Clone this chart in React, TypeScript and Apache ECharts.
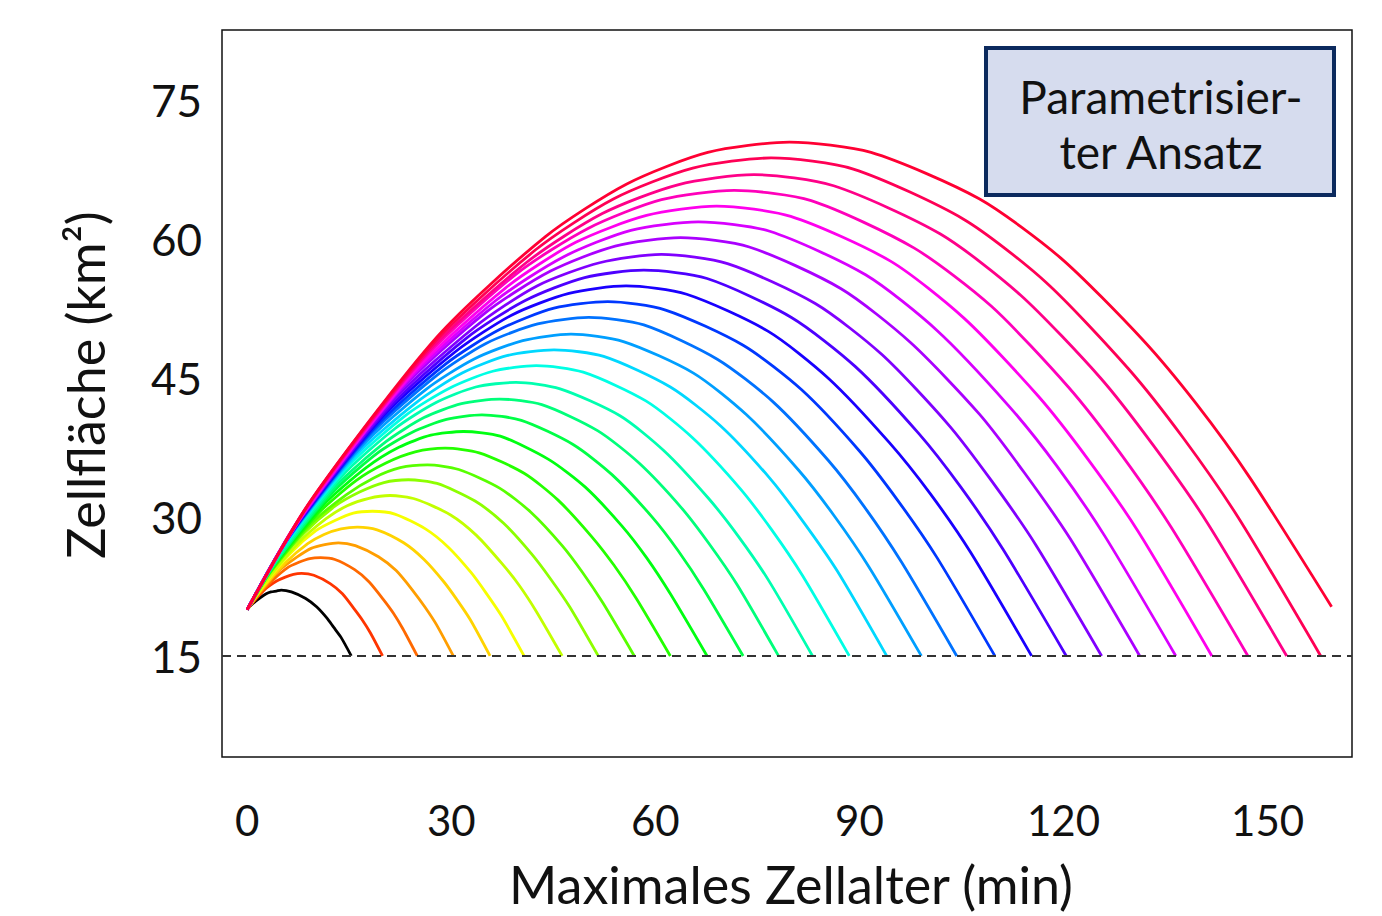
import React, { useEffect, useRef } from 'react';
import * as echarts from 'echarts';

// Tick labels and reference values
const xTicks = [0, 30, 60, 90, 120, 150];
const yTicks = [15, 30, 45, 60, 75];
const thresholdArea = 15;
const boxLines = ['Parametrisier-', 'ter Ansatz'];
const xTitle = 'Maximales Zellalter (min)';
const yTitle = 'Zellfläche (km²)';

// Curves: [Zellalter (min), Zellfläche (km²)]
const curve00 = [[0, 20], [0.6, 20.5], [1.8, 21.2], [2.8, 21.7], [3.5, 21.9], [4.3, 22.0], [5.0, 22.1], [6.5, 21.9], [8.6, 21.2], [10.2, 20.3], [11.7, 19.1], [12.7, 18.1], [13.8, 17.0], [15.3, 15]];
const curve01 = [[0, 20], [1.0, 20.9], [2.8, 22.3], [4.4, 23.1], [5.6, 23.5], [6.8, 23.8], [8.0, 23.9], [9.8, 23.7], [12.2, 22.8], [14.0, 21.7], [15.7, 20.1], [16.9, 18.9], [18.1, 17.5], [19.9, 15]];
const curve02 = [[0, 20], [1.3, 21.3], [3.8, 23.2], [5.9, 24.5], [7.6, 25.1], [9.2, 25.5], [10.8, 25.6], [12.9, 25.4], [15.8, 24.3], [17.9, 23.0], [20.0, 21.1], [21.5, 19.6], [22.9, 17.9], [25.0, 15]];
const curve03 = [[0, 20], [1.6, 21.6], [4.7, 24.2], [7.4, 25.7], [9.4, 26.6], [11.4, 27.0], [13.4, 27.2], [15.9, 26.9], [19.3, 25.7], [21.9, 24.2], [24.4, 22.0], [26.1, 20.3], [27.8, 18.4], [30.3, 15]];
const curve04 = [[0, 20], [1.9, 22.0], [5.7, 25.1], [8.9, 27.1], [11.3, 28.1], [13.8, 28.7], [16.2, 28.9], [19.1, 28.6], [23.0, 27.2], [26.0, 25.4], [28.9, 23.0], [30.8, 21.1], [32.8, 18.9], [35.7, 15]];
const curve05 = [[0, 20], [2.2, 22.4], [6.4, 26.1], [10.1, 28.5], [12.9, 29.6], [15.6, 30.4], [18.4, 30.6], [21.7, 30.3], [26.2, 28.7], [29.6, 26.7], [32.9, 24.0], [35.1, 21.8], [37.4, 19.3], [40.7, 15]];
const curve06 = [[0, 20], [2.5, 22.8], [7.4, 27.1], [11.6, 29.8], [14.7, 31.2], [17.9, 32.0], [21.0, 32.3], [24.8, 31.9], [29.9, 30.2], [33.7, 28.0], [37.4, 25.0], [40.0, 22.6], [42.5, 19.8], [46.3, 15]];
const curve07 = [[0, 20], [2.8, 23.5], [8.3, 28.2], [13.0, 31.2], [16.6, 32.7], [20.1, 33.7], [23.7, 34.0], [27.9, 33.6], [33.5, 31.7], [37.7, 29.3], [41.8, 26.0], [44.6, 23.3], [47.4, 20.3], [51.6, 15]];
const curve08 = [[0, 20], [3.2, 23.8], [9.3, 29.2], [14.6, 32.4], [18.6, 34.2], [22.5, 35.3], [26.5, 35.6], [31.1, 35.1], [37.1, 33.1], [41.7, 30.5], [46.3, 26.9], [49.3, 24.0], [52.3, 20.7], [56.9, 15]];
const curve09 = [[0, 20], [3.5, 24.2], [10.2, 30.2], [16.0, 33.9], [20.4, 35.8], [24.7, 37.0], [29.1, 37.4], [34.1, 36.9], [40.7, 34.7], [45.7, 31.8], [50.6, 27.9], [53.9, 24.8], [57.2, 21.2], [62.2, 15]];
const curve10 = [[0, 20], [3.8, 24.6], [11.1, 31.2], [17.5, 35.3], [22.3, 37.5], [27.0, 38.8], [31.8, 39.2], [37.2, 38.7], [44.3, 36.2], [49.7, 33.2], [55.1, 29.0], [58.7, 25.6], [62.2, 21.7], [67.6, 15]];
const curve11 = [[0, 20], [4.1, 25.0], [12.1, 32.3], [19.0, 36.8], [24.2, 39.1], [29.3, 40.5], [34.5, 41.0], [40.3, 40.4], [47.9, 37.8], [53.7, 34.5], [59.5, 30.0], [63.3, 26.4], [67.1, 22.2], [72.9, 15]];
const curve12 = [[0, 20], [4.5, 25.4], [13.0, 33.3], [20.4, 38.1], [26.0, 40.7], [31.5, 42.2], [37.1, 42.7], [43.3, 42.1], [51.5, 39.3], [57.6, 35.8], [63.8, 31.0], [67.9, 27.1], [72.0, 22.7], [78.1, 15]];
const curve13 = [[0, 20], [4.7, 25.8], [13.8, 34.3], [21.7, 39.5], [27.7, 42.3], [33.6, 44.0], [39.5, 44.5], [46.0, 43.8], [54.8, 40.9], [61.3, 37.1], [67.8, 32.0], [72.2, 27.9], [76.6, 23.2], [83.1, 15]];
const curve14 = [[0, 20], [5.1, 26.5], [14.9, 35.5], [23.4, 41.0], [29.8, 43.9], [36.1, 45.7], [42.5, 46.3], [49.4, 45.6], [58.6, 42.5], [65.5, 38.5], [72.4, 33.1], [77.0, 28.7], [81.6, 23.7], [88.5, 15]];
const curve15 = [[0, 20], [5.4, 26.9], [15.8, 36.5], [24.8, 42.3], [31.6, 45.5], [38.3, 47.4], [45.1, 48.0], [52.4, 47.3], [62.2, 44.0], [69.6, 39.8], [76.9, 34.1], [81.8, 29.4], [86.7, 24.2], [94.0, 15]];
const curve16 = [[0, 20], [5.7, 27.3], [16.7, 37.5], [26.2, 43.7], [33.3, 47.0], [40.5, 49.0], [47.6, 49.7], [55.3, 48.9], [65.6, 45.5], [73.4, 41.0], [81.1, 35.0], [86.2, 30.2], [91.4, 24.6], [99.1, 15]];
const curve17 = [[0, 20], [6.0, 27.7], [17.6, 38.5], [27.6, 45.1], [35.1, 48.7], [42.7, 50.8], [50.2, 51.5], [58.3, 50.7], [69.1, 47.0], [77.3, 42.4], [85.4, 36.1], [90.8, 31.0], [96.2, 25.1], [104.3, 15]];
const curve18 = [[0, 20], [6.4, 28.1], [18.6, 39.5], [29.2, 46.5], [37.1, 50.2], [45.1, 52.5], [53.0, 53.2], [61.5, 52.3], [72.9, 48.5], [81.5, 43.7], [90.0, 37.1], [95.7, 31.7], [101.4, 25.6], [109.9, 15]];
const curve19 = [[0, 20], [6.7, 28.5], [19.5, 40.5], [30.6, 47.8], [39.0, 51.8], [47.3, 54.1], [55.7, 54.9], [64.6, 54.0], [76.6, 50.0], [85.5, 44.9], [94.4, 38.0], [100.4, 32.5], [106.4, 26.1], [115.3, 15]];
const curve20 = [[0, 20], [7.0, 28.9], [20.4, 41.4], [32.1, 49.2], [40.8, 53.3], [49.6, 55.8], [58.3, 56.6], [67.6, 55.7], [80.0, 51.5], [89.4, 46.2], [98.7, 39.0], [104.9, 33.2], [111.1, 26.5], [120.4, 15]];
const curve21 = [[0, 20], [7.3, 29.2], [21.3, 42.4], [33.5, 50.5], [42.6, 54.9], [51.8, 57.4], [60.9, 58.3], [70.6, 57.3], [83.5, 53.0], [93.3, 47.5], [103.0, 40.0], [109.4, 33.9], [115.9, 27.0], [125.6, 15]];
const curve22 = [[0, 20], [7.6, 29.7], [22.3, 43.5], [35.0, 52.0], [44.6, 56.5], [54.1, 59.2], [63.7, 60.1], [73.8, 59.1], [87.3, 54.6], [97.5, 48.8], [107.6, 41.1], [114.3, 34.7], [121.1, 27.5], [131.2, 15]];
const curve23 = [[0, 20], [8.0, 30.0], [23.2, 44.4], [36.5, 53.3], [46.4, 58.0], [56.4, 60.9], [66.3, 61.8], [76.8, 60.8], [90.9, 56.1], [101.4, 50.1], [111.9, 42.0], [119.0, 35.5], [126.0, 28.0], [136.5, 15]];
const curve24 = [[0, 20], [8.3, 30.4], [24.2, 45.4], [38.0, 54.7], [48.3, 59.6], [58.7, 62.5], [69.0, 63.5], [79.9, 62.4], [94.5, 57.6], [105.4, 51.4], [116.3, 43.0], [123.6, 36.2], [130.9, 28.5], [141.8, 15]];
const curve25 = [[0, 20], [8.6, 30.8], [25.1, 46.4], [39.4, 56.1], [50.1, 61.1], [60.9, 64.2], [71.6, 65.2], [82.9, 64.1], [98.0, 59.0], [109.4, 52.7], [120.7, 44.0], [128.2, 37.0], [135.8, 28.9], [147.1, 15]];
const curve26 = [[0, 20], [8.9, 31.2], [26.1, 47.4], [41.0, 57.4], [52.2, 62.7], [63.3, 65.8], [74.5, 66.9], [86.2, 65.7], [101.9, 60.5], [113.7, 53.9], [125.4, 45.0], [133.2, 37.7], [141.1, 29.4], [152.8, 15]];
const curve27 = [[0, 20], [9.2, 31.6], [27.0, 48.4], [42.4, 58.8], [53.9, 64.3], [65.5, 67.6], [77.0, 68.7], [89.1, 67.5], [105.3, 62.1], [117.4, 55.3], [129.5, 46.0], [137.6, 38.5], [145.7, 29.9], [157.8, 15]];
const curve28 = [[0, 20], [9.6, 32.0], [27.9, 49.4], [43.8, 60.2], [55.8, 65.9], [67.7, 69.3], [79.7, 70.4], [91.7, 69.3], [107.6, 64.3], [119.6, 57.9], [131.5, 49.2], [139.5, 42.2], [147.4, 34.2], [159.4, 20.3]];

const curves = [
  curve00, curve01, curve02, curve03, curve04, curve05, curve06, curve07, curve08, curve09,
  curve10, curve11, curve12, curve13, curve14, curve15, curve16, curve17, curve18, curve19,
  curve20, curve21, curve22, curve23, curve24, curve25, curve26, curve27, curve28,
];

const curveColors = [
  '#000000', '#ff3500', '#ff6900', '#ff9e00', '#ffd300', '#f6ff00', '#c2ff00', '#8dff00', '#58ff00', '#24ff00',
  '#00ff11', '#00ff46', '#00ff7a', '#00ffaf', '#00ffe4', '#00d8ff', '#009fff', '#0072ff', '#0038ff', '#1a00ff',
  '#4d00ff', '#8000ff', '#aa00ff', '#d800ff', '#ff00ee', '#ff00bb', '#ff0088', '#ff0055', '#ff0033',
];

const FONT = 'Lato, "Open Sans", sans-serif';

export default function App() {
  const ref = useRef<HTMLDivElement>(null);

  useEffect(() => {
    if (!ref.current) return;
    const chart = echarts.init(ref.current, null, { renderer: 'svg' });

    const series: any[] = curves.map((d, i) => ({
      type: 'line',
      data: d,
      smooth: 0.25,
      showSymbol: false,
      symbol: 'none',
      silent: true,
      lineStyle: { color: curveColors[i], width: 2.8 },
      itemStyle: { color: curveColors[i] },
      ...(i === 0
        ? {
            markLine: {
              silent: true,
              symbol: 'none',
              label: { show: false },
              lineStyle: { type: [9, 6], color: '#333333', width: 2 },
              data: [{ yAxis: thresholdArea }],
            },
          }
        : {}),
    }));

    chart.setOption({
      animation: false,
      backgroundColor: '#ffffff',
      grid: {
        left: 222,
        right: 30,
        top: 30,
        bottom: 159,
        show: true,
        borderColor: '#111111',
        borderWidth: 1.5,
        backgroundColor: 'transparent',
        containLabel: false,
        outerBoundsMode: 'none',
      },
      xAxis: {
        type: 'value',
        min: -3.7,
        max: 162.4,
        axisLine: { show: false },
        axisTick: { show: false },
        splitLine: { show: false },
        axisLabel: {
          customValues: xTicks,
          fontSize: 42,
          fontFamily: FONT,
          color: '#111111',
          margin: 42,
        },
      },
      yAxis: {
        type: 'value',
        min: 4.1,
        max: 82.5,
        axisLine: { show: false },
        axisTick: { show: false },
        splitLine: { show: false },
        axisLabel: {
          customValues: yTicks,
          fontSize: 44,
          fontFamily: FONT,
          color: '#111111',
          margin: 20,
        },
      },
      graphic: [
        {
          type: 'text',
          x: 85,
          y: 385,
          rotation: Math.PI / 2,
          style: {
            text: yTitle,
            fontSize: 52,
            fontFamily: FONT,
            fill: '#111111',
            textAlign: 'center',
            textVerticalAlign: 'middle',
            align: 'center',
            verticalAlign: 'middle',
          },
        },
        {
          type: 'text',
          x: 791,
          y: 884,
          style: {
            text: xTitle,
            fontSize: 52,
            fontFamily: FONT,
            fill: '#111111',
            textAlign: 'center',
            textVerticalAlign: 'middle',
            align: 'center',
            verticalAlign: 'middle',
          },
        },
        {
          type: 'rect',
          shape: { x: 986, y: 48, width: 348, height: 147 },
          style: { fill: '#d6dcee', stroke: '#0c2a5e', lineWidth: 4 },
          z: 10,
        },
        {
          type: 'text',
          x: 1161,
          y: 96,
          z: 11,
          style: {
            text: boxLines[0],
            fontSize: 46,
            fontFamily: FONT,
            fill: '#111111',
            textAlign: 'center',
            textVerticalAlign: 'middle',
            align: 'center',
            verticalAlign: 'middle',
          },
        },
        {
          type: 'text',
          x: 1161,
          y: 151,
          z: 11,
          style: {
            text: boxLines[1],
            fontSize: 46,
            fontFamily: FONT,
            fill: '#111111',
            textAlign: 'center',
            textVerticalAlign: 'middle',
            align: 'center',
            verticalAlign: 'middle',
          },
        },
      ],
      series,
    });

    return () => chart.dispose();
  }, []);

  return (
    <div
      ref={ref}
      style={{ position: 'fixed', left: 0, top: 0, width: 1382, height: 916, background: '#ffffff' }}
    />
  );
}
